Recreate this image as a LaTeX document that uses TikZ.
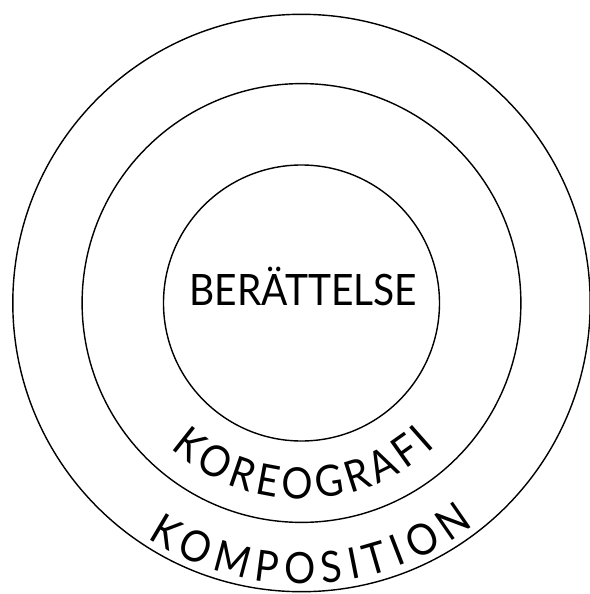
\documentclass[tikz,border=0pt]{standalone}
\usepackage{fontspec}
\usetikzlibrary{positioning, decorations.text}
\newfontfamily\ringfont[FakeStretch=0.9]{Lato}
\newcommand\ringtext{\ringfont\fontsize{24.6pt}{30pt}\selectfont}

\begin{document}
\begin{tikzpicture}[
    ring/.style={
        draw,
        line width=0.8pt
    },
    ringlabel/.style={
        decorate,
        decoration={
            text along path,
            text align={fit to path}
        }
    }
]
\useasboundingbox (-6.03,-5.82) rectangle (5.77,6.06);

% --- Centre of the rings ---
\coordinate (centre) at (0,0);

% --- Rings ---
\draw[ring] (centre) circle[radius=5.774];
\draw[ring] (centre) circle[radius=4.388];
\draw[ring] (centre) circle[radius=2.76];

% --- Inner label ---
\node[anchor=base, font=\ringtext, inner sep=0pt] (story) at (0.04,-0.04) {BERÄTTELSE};

% --- Curved labels ---
\path[ringlabel, decoration={text={|\ringtext|KOREOGRAFI}}]
    (centre) ++(228:3.92) arc[start angle=228, end angle=313, radius=3.92];
\path[ringlabel, decoration={text={|\ringtext|KOMPOSITION}}]
    (centre) ++(236.7:5.62) arc[start angle=236.7, end angle=307.7, radius=5.62];

\end{tikzpicture}
\end{document}
